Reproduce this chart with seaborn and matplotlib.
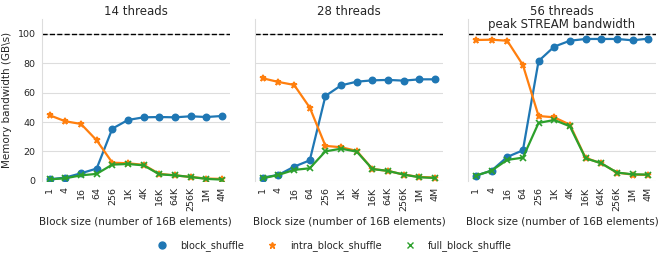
import matplotlib
matplotlib.use("Agg")
import matplotlib.pyplot as plt
from matplotlib.lines import Line2D
import seaborn as sns
import pandas as pd

block_sizes = ["1", "4", "16", "64", "256", "1K", "4K", "16K", "64K", "256K", "1M", "4M"]
threads = ["14 threads", "28 threads", "56 threads"]
methods = ["block_shuffle", "intra_block_shuffle", "full_block_shuffle"]

# GB/s per block size
block_14 = [1.1, 2.3, 5.2, 8.4, 35.5, 41.4, 43.2, 43.4, 43.2, 43.9, 43.4, 44.1]
intra_14 = [44.6, 40.5, 38.7, 27.6, 12.4, 12.0, 10.9, 4.8, 3.8, 2.7, 1.6, 1.4]
full_14 = [1.1, 1.8, 3.8, 4.8, 11.1, 11.5, 10.6, 4.5, 3.8, 2.7, 1.4, 0.9]

block_28 = [2.3, 4.1, 9.7, 14.0, 57.7, 64.9, 67.4, 68.3, 68.6, 68.1, 69.0, 69.0]
intra_28 = [69.7, 67.2, 65.2, 49.8, 23.8, 22.9, 20.4, 8.1, 6.8, 4.3, 2.7, 2.3]
full_28 = [1.8, 4.1, 7.5, 8.6, 20.1, 21.9, 19.9, 8.1, 6.8, 4.3, 2.5, 2.0]

block_56 = [3.6, 7.0, 16.3, 20.8, 81.4, 91.2, 95.2, 96.4, 96.4, 96.4, 95.5, 96.6]
intra_56 = [95.7, 95.9, 95.2, 78.7, 44.1, 43.2, 38.2, 15.6, 12.0, 5.7, 4.3, 4.1]
full_56 = [3.6, 7.0, 14.3, 15.8, 39.4, 41.4, 37.1, 15.4, 12.0, 5.7, 4.5, 4.3]

peak_bw = 100

series = {
    "14 threads": [block_14, intra_14, full_14],
    "28 threads": [block_28, intra_28, full_28],
    "56 threads": [block_56, intra_56, full_56],
}

rows = []
for t in threads:
    for m, vals in zip(methods, series[t]):
        for b, v in zip(block_sizes, vals):
            rows.append({"threads": t, "method": m, "block": b, "bw": v})
df = pd.DataFrame(rows)

sns.set_style("whitegrid")
palette = sns.color_palette()[:3]
markers = ["o", "*", "x"]

fig, axes = plt.subplots(1, 3, figsize=(6.64, 2.63), dpi=100, sharey=True)
fig.subplots_adjust(left=0.063, right=0.988, top=0.928, bottom=0.312, wspace=0.134)

for ax, t in zip(axes, threads):
    sub = df[df["threads"] == t]
    sns.pointplot(data=sub, x="block", y="bw", hue="method", hue_order=methods,
                  order=block_sizes, palette=palette, markers=markers,
                  linestyles="-", ax=ax, legend=False, markersize=4.5, linewidth=1.6)
    ax.axhline(peak_bw, color="black", linestyle="--", linewidth=1)
    ax.set_title(t, fontsize=8.5, pad=3)
    ax.set_ylim(0, 110)
    ax.set_yticks([0, 20, 40, 60, 80, 100])
    ax.set_xlabel("Block size (number of 16B elements)", fontsize=7.5)
    ax.set_ylabel("")
    ax.tick_params(axis="x", labelrotation=90, labelsize=6.8, pad=1)
    ax.tick_params(axis="y", labelsize=6.8, pad=1)
    ax.grid(axis="x", visible=False)
    ax.grid(axis="y", color="#dddddd", linewidth=0.8)
    sns.despine(ax=ax, top=True, right=True, left=False, bottom=True)
    ax.spines["left"].set_color("#dddddd")

axes[0].set_ylabel("Memory bandwidth (GB\\s)", fontsize=7.5)
axes[2].text(5.5, peak_bw + 1.5, "peak STREAM bandwidth", ha="center", va="bottom", fontsize=8.5)

handles = [Line2D([], [], color=c, marker=mk, linestyle="none", markersize=5)
           for c, mk in zip(palette, markers)]
fig.legend(handles, methods, loc="center", bbox_to_anchor=(0.5, 0.065), ncol=3,
           frameon=False, fontsize=7, handlelength=2.0, handletextpad=0.85,
           columnspacing=1.9)

fig.savefig("out.png", dpi=100)
